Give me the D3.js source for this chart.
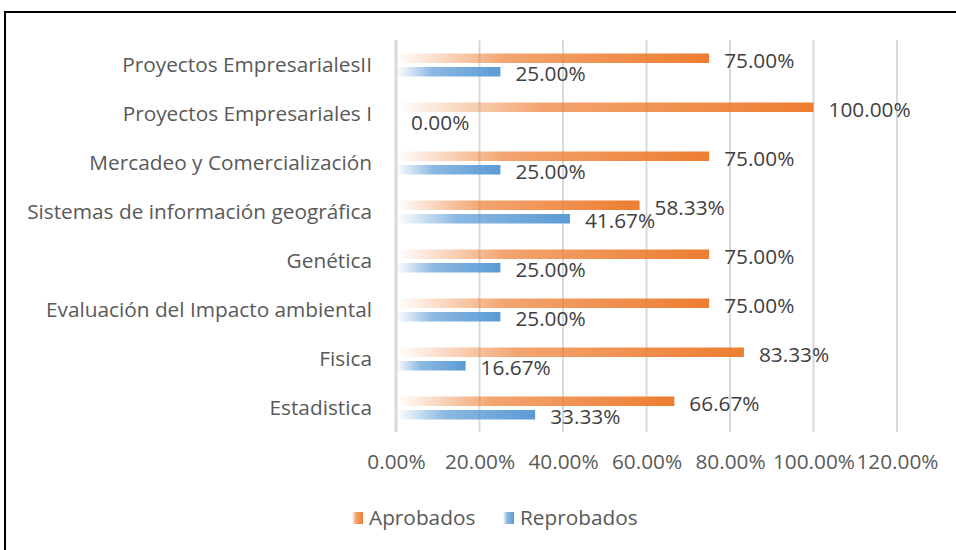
<!DOCTYPE html>
<html>
<head>
<meta charset="utf-8">
<script src="https://cdn.jsdelivr.net/npm/d3@7"></script>
<style>
  body { margin: 0; background: #fff; }
  text { font-family: "Open Sans", sans-serif; }
</style>
</head>
<body>
<div id="grafico"></div>
<script>
// datos
var materias = ["Proyectos EmpresarialesII", "Proyectos Empresariales I", "Mercadeo y Comercialización",
  "Sistemas de información geográfica", "Genética", "Evaluación del Impacto ambiental", "Fisica", "Estadistica"];
var aprobados = [75.00, 100.00, 75.00, 58.33, 75.00, 75.00, 83.33, 66.67];
var reprobados = [25.00, 0.00, 25.00, 41.67, 25.00, 25.00, 16.67, 33.33];
var ticks = [0, 20, 40, 60, 80, 100, 120];
var series = ["Aprobados", "Reprobados"];

var width = 956, height = 550;
var naranja = "#ed7d31", azul = "#5b9bd5";
var fs = "20.8px";

var svg = d3.select("#grafico").append("svg")
  .attr("width", width)
  .attr("height", height);

// marco
svg.append("rect")
  .attr("x", 5).attr("y", 12)
  .attr("width", 1000).attr("height", 600)
  .attr("fill", "none")
  .attr("stroke", "#000")
  .attr("stroke-width", 2);

var defs = svg.append("defs");
function degradado(id, color){
  var g = defs.append("linearGradient")
    .attr("id", id)
    .attr("x1", "0%").attr("y1", "0%")
    .attr("x2", "100%").attr("y2", "0%");
  g.append("stop").attr("offset", "0%").attr("stop-color", color).attr("stop-opacity", 0);
  g.append("stop").attr("offset", "35%").attr("stop-color", color).attr("stop-opacity", 0.7);
  g.append("stop").attr("offset", "100%").attr("stop-color", color).attr("stop-opacity", 1);
}
degradado("grad_aprob", naranja);
degradado("grad_reprob", azul);

var x = d3.scaleLinear().domain([0, 120]).range([396, 897]);
var y = d3.scaleBand().domain(materias).range([40, 432]);

// grid
svg.append("g").selectAll("line")
  .data(ticks.slice(1))
  .enter().append("line")
  .attr("x1", d => x(d)).attr("x2", d => x(d))
  .attr("y1", 40).attr("y2", 432)
  .attr("stroke", "#d9d9d9")
  .attr("stroke-width", 2);

svg.append("line")
  .attr("x1", x(0)).attr("x2", x(0))
  .attr("y1", 40).attr("y2", 432)
  .attr("stroke", "#d9d9d9")
  .attr("stroke-width", 3);

// eje x
var xAxis = d3.axisBottom(x)
  .tickValues(ticks)
  .tickSize(0)
  .tickFormat(d => d.toFixed(2) + "%");

svg.append("g")
  .attr("transform", "translate(0,451)")
  .call(xAxis)
  .call(g => g.select(".domain").remove())
  .selectAll("text")
  .attr("fill", "#595959")
  .style("font-size", fs);

// eje y
var yAxis = d3.axisLeft(y).tickSize(0).tickPadding(24);
svg.append("g")
  .attr("transform", "translate(396,0)")
  .call(yAxis)
  .call(g => g.select(".domain").remove())
  .selectAll("text")
  .attr("fill", "#595959")
  .attr("dy", "0.35em")
  .style("font-size", fs);

// barras
var yc = d => y(d) + y.bandwidth() / 2;

svg.append("g").selectAll("rect")
  .data(materias)
  .enter().append("rect")
  .attr("x", x(0))
  .attr("y", d => yc(d) - 11)
  .attr("width", (d, i) => x(aprobados[i]) - x(0))
  .attr("height", 9.5)
  .attr("fill", "url(#grad_aprob)");

svg.append("g").selectAll("rect")
  .data(materias)
  .enter().append("rect")
  .attr("x", x(0))
  .attr("y", d => yc(d) + 2.5)
  .attr("width", (d, i) => x(reprobados[i]) - x(0))
  .attr("height", 9.5)
  .attr("fill", "url(#grad_reprob)");

// etiquetas
svg.append("g").selectAll("text")
  .data(materias)
  .enter().append("text")
  .attr("x", (d, i) => x(aprobados[i]) + 15)
  .attr("y", d => yc(d) - 4)
  .attr("dy", "0.35em")
  .attr("fill", "#404040")
  .style("font-size", fs)
  .text((d, i) => aprobados[i].toFixed(2) + "%");

svg.append("g").selectAll("text")
  .data(materias)
  .enter().append("text")
  .attr("x", (d, i) => x(reprobados[i]) + 15)
  .attr("y", d => yc(d) + 9)
  .attr("dy", "0.35em")
  .attr("fill", "#404040")
  .style("font-size", fs)
  .text((d, i) => reprobados[i].toFixed(2) + "%");

// leyenda
var leyenda = svg.append("g").attr("transform", "translate(352,518)");
var items = leyenda.selectAll("g")
  .data(series)
  .enter().append("g")
  .attr("transform", (d, i) => "translate(" + (i * 151) + ",0)");

items.append("rect")
  .attr("x", 0).attr("y", -6)
  .attr("width", 11).attr("height", 12)
  .attr("fill", (d, i) => i == 0 ? "url(#grad_aprob)" : "url(#grad_reprob)");

items.append("text")
  .attr("x", 17)
  .attr("dy", "0.35em")
  .attr("fill", "#595959")
  .style("font-size", fs)
  .text(d => d);
</script>
</body>
</html>
